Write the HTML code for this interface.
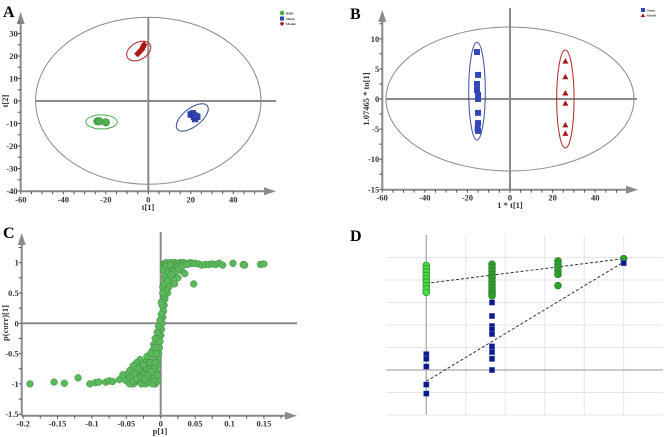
<!DOCTYPE html>
<html><head><meta charset="utf-8"><style>
html,body{margin:0;padding:0;background:#fff}
svg{display:block}
text{font-family:"Liberation Serif",serif;font-weight:bold;fill:#333}
.tk{font-size:8.5px}
.pl{font-size:16px;fill:#000}
</style></head><body>
<svg id="fig" width="666" height="437" viewBox="0 0 666 437" xmlns="http://www.w3.org/2000/svg"></svg>
<script>
// ---------- DATA ----------
const aBhdX=[-24,-23,-20];
const aBhdY=[-9,-9,-9.5];
const aShamX=[20,21,21.5,22,23,22];
const aShamY=[-6,-5.5,-7,-8,-7,-6.5];
const aModelX=[-5,-4.5,-4,-3.5,-3,-2.5,-2];
const aModelY=[21,21.5,22,22.5,23,24,25];
const aXTicks=[-60,-40,-20,0,20,40];
const aYTicks=[30,20,10,0,-10,-20,-30,-40];

const bShamX=[-15.5,-15,-15.5,-15.5,-15,-15,-15,-15,-15.2,-15];
const bShamY=[7.8,4,2.5,1.5,0.7,0,-2.3,-4,-5,-5.3];
const bModelX=[26,26,26,26,26,26];
const bModelY=[6.3,3.7,1,-0.7,-4.3,-5.7];
const bXTicks=[-60,-40,-20,0,20,40];
const bYTicks=[10,5,0,-5,-10,-15];

const cX=[0.004,0.006,0.008,0.01,0.012,0.015,0.018,0.02,0.022,0.025,0.028,0.03,0.033,0.036,0.04,0.043,0.046,0.05,0.055,0.007,0.01,0.013,0.016,0.02,0.024,0.03,0.035,0.02,0.025,0.015,0.012,0.02,0.01,0.006,0.008,0.005,0.004,0.003,0.002,0.001,0.0,0.004,0.006,0.008,0.004,0.003,0.002,0.001,
0.06,0.065,0.07,0.075,0.08,0.085,0.09,0.105,0.12,0.122,0.145,0.15,0.048,
-0.001,-0.002,-0.003,-0.004,-0.005,-0.006,-0.007,-0.008,-0.004,-0.002,-0.005,-0.008,-0.01,-0.012,-0.015,-0.02,-0.018,-0.01,-0.012,-0.015,-0.02,-0.025,-0.03,-0.035,-0.04,-0.045,-0.05,-0.048,-0.042,-0.038,-0.035,-0.03,-0.028,-0.025,-0.022,-0.018,-0.012,-0.01,-0.04,-0.045,-0.032,-0.027,-0.02,-0.015,-0.006,-0.008,
-0.19,-0.155,-0.14,-0.12,-0.103,-0.095,-0.09,-0.08,-0.075,-0.07,-0.06,-0.055,-0.05,
-0.045,-0.04,-0.035,-0.03,-0.025,-0.02,-0.015,-0.01,-0.005,-0.045,-0.04,-0.035,-0.03,-0.025,-0.02,-0.015,-0.01,-0.038,-0.033,-0.028,-0.023,-0.018,-0.013,-0.008,-0.003,-0.001,0.001,0.003,0.005,0.007,0.009,0.011,0.014,0.017,0.021,0.026,0.031,0.038,0.01,0.015];
const cY=[0.98,0.99,1,0.97,0.99,1,0.98,1,0.97,0.99,1,0.98,1,0.99,0.98,1,0.99,0.99,0.98,0.93,0.9,0.92,0.94,0.9,0.93,0.87,0.82,0.8,0.75,0.7,0.6,0.65,0.5,0.4,0.55,0.3,0.2,0.1,0.0,-0.1,-0.2,0.45,0.75,0.85,0.88,0.6,0.3,0.15,
0.96,0.97,0.97,0.98,0.97,0.99,0.96,0.99,0.97,0.96,0.97,0.98,0.65,
-0.3,-0.4,-0.5,-0.6,-0.7,-0.8,-0.9,-1,-0.95,-0.2,-0.15,-0.25,-0.35,-0.45,-0.5,-0.62,-0.7,-0.6,-0.8,-0.95,-0.85,-0.75,-0.6,-0.65,-0.7,-0.78,-0.85,-0.95,-0.9,-0.98,-0.85,-0.95,-1,-0.9,-1,-0.98,-1,-0.92,-1,-0.98,-0.78,-0.82,-0.75,-0.65,-0.5,-0.65,
-1,-0.97,-0.99,-0.9,-1,-0.98,-0.97,-0.97,-0.95,-0.96,-0.93,-0.85,-0.95,
-0.9,-0.88,-0.92,-0.88,-0.85,-0.9,-0.88,-0.85,-0.85,-1,-0.95,-0.92,-0.72,-0.68,-0.55,-0.75,-0.75,-0.82,-0.75,-0.9,-0.92,-0.85,-0.8,-0.4,-0.05,0.05,0.35,0.5,0.65,0.8,0.95,0.85,0.96,0.86,0.85,0.9,0.95,0.97,0.7,0.8];
const cXTicks=[-0.2,-0.15,-0.1,-0.05,0,0.05,0.1,0.15];
const cXLabels=["-0.2","-0.15","-0.1","-0.05","0","0.05","0.1","0.15"];
const cYTicks=[1,0.5,0,-0.5,-1,-1.5];

const dR2X=[0,0,0,0,0,0,0,0,0, 0.333,0.333,0.333,0.333,0.333,0.333,0.333,0.333,0.333,0.333,0.333, 0.667,0.667,0.667,0.667,0.667,0.667, 1];
const dR2Y=[0.93,0.90,0.87,0.84,0.81,0.78,0.75,0.72,0.69, 0.94,0.91,0.88,0.85,0.82,0.79,0.76,0.73,0.70,0.68,0.66, 0.97,0.94,0.91,0.88,0.85,0.75, 0.99];
const dQ2X=[0,0,0,0,0, 0.333,0.333,0.333,0.333,0.333,0.333,0.333,0.333,0.333, 1];
const dQ2Y=[0.14,0.10,0.03,-0.13,-0.21, 0.60,0.48,0.39,0.36,0.32,0.21,0.16,0.10,0.0, 0.95];
const dR2Line=[0.77,0.99];
const dQ2Line=[-0.10,0.96];
const dGridX=[0,0.2,0.4,0.6,0.8,1.0];
const dGridY=[1.0,0.8,0.6,0.4,0.2,0,-0.2,-0.4];

// ---------- SCALES ----------
const xA=v=>148.3+v*2.125, yA=v=>101-v*2.25;
const xB=v=>510+v*2.13, yB=v=>99-v*6.02;
const xC=v=>160.7+v*688, yC=v=>323.3-v*60.6;
const xD=v=>426.3+v*197.4, yD=v=>370-v*112.5;

const svg=document.getElementById('fig');
const NS='http://www.w3.org/2000/svg';
function mk(tag,attrs,parent){const e=document.createElementNS(NS,tag);for(const k in attrs)e.setAttribute(k,attrs[k]);(parent||svg).appendChild(e);return e;}
const AX='#8a8a8a';

function axes(x0,y0,x1,y1,pre){
  let e=mk('line',{x1:x0,y1:y0,x2:x1-6,y2:y0,stroke:AX,'stroke-width':2});
  
  
  e=mk('polygon',{points:`${x1},${y0} ${x1-12},${y0-4} ${x1-12},${y0+4}`,fill:AX});
  
  
  e=mk('line',{x1:x0,y1:y0,x2:x0,y2:y1+6,stroke:AX,'stroke-width':2});
  
  
  e=mk('polygon',{points:`${x0},${y1} ${x0-4},${y1+12} ${x0+4},${y1+12}`,fill:AX});
  
  
}
function xtick(x,y,label,pre){
  let e=mk('line',{x1:x,y1:y,x2:x,y2:y+3,stroke:'#555','stroke-width':1});
  
  
  if(label!==null){e=mk('text',{x:x,y:y+11,'text-anchor':'middle',class:'tk'});e.textContent=label;
  
  }
}
function ytick(x,y,label,pre){
  let e=mk('line',{x1:x-3,y1:y,x2:x,y2:y,stroke:'#555','stroke-width':1});
  
  
  if(label!==null){e=mk('text',{x:x-3,y:y+3,'text-anchor':'end',class:'tk'});e.textContent=label;
  
  }
}
function line(x1,y1,x2,y2,name,st,w,dash){
  const e=mk('line',{x1,y1,x2,y2,stroke:st,'stroke-width':w});
  if(dash)e.setAttribute('stroke-dasharray',dash);
  
  
  return e;
}
function txt(x,y,s,name,cls,extra){
  const e=mk('text',Object.assign({x,y,class:cls},extra||{}));e.textContent=s;
  
  
  return e;
}
function ell(cx,cy,rx,ry,rot,st,name){
  const e=mk('ellipse',{cx,cy,rx,ry,fill:'none',stroke:st,'stroke-width':1,transform:`rotate(${rot} ${cx} ${cy})`});
  
  
}

// ---------- PANEL A ----------
txt(3,17,'A','panel-a-label','pl');
ell(148.3,100.8,112.7,83.5,0,'#888','a-t2-hotelling-ellipse');
line(35,101,276,101,'a-horizontal-crosshair',AX,2);
line(148.3,17,148.3,191,'a-vertical-crosshair',AX,2);
axes(20.7,191.3,276,12,'a');
for(let v=-60;v<=50;v+=5){xtick(xA(v),191.3,aXTicks.includes(v)?String(v):null,'a');}
for(let v=-40;v<=35;v+=5){ytick(20.7,yA(v),aYTicks.includes(v)?String(v):null,'a');}
txt(148,210,'t[1]','a-x-axis-title','tk',{'text-anchor':'middle'});
txt(8,101,'t[2]','a-y-axis-title','tk',{'text-anchor':'middle',transform:'rotate(-90 8 101)'});
ell(xA(-22),yA(-9.3),15.7,7,0,'#4caf50','a-bhd-ellipse');
ell(xA(20.7),yA(-7.3),19,9,-38,'#3b4aa0','a-sham-ellipse');
ell(xA(-4.5),yA(22.2),13,8.5,-30,'#b22222','a-model-ellipse');
aBhdX.forEach((v,i)=>{const e=mk('circle',{cx:xA(v),cy:yA(aBhdY[i]),r:3.8,fill:'#4cae4c',stroke:'#2e7d32','stroke-width':0.5});
  
  });
aShamX.forEach((v,i)=>{const e=mk('rect',{x:xA(v)-3,y:yA(aShamY[i])-3,width:6,height:6,fill:'#3346b8',stroke:'#1a237e','stroke-width':0.4});
  
  });
aModelX.forEach((v,i)=>{const cx=xA(v),cy=yA(aModelY[i]);const e=mk('polygon',{points:`${cx},${cy-3.5} ${cx+3.5},${cy} ${cx},${cy+3.5} ${cx-3.5},${cy}`,fill:'#b01515'});
  
  });
// legend A
let lg=mk('circle',{cx:282,cy:13,r:2.3,fill:'#4cae4c'});


lg=mk('rect',{x:280,y:16.5,width:4,height:4,fill:'#3346b8'});


lg=mk('polygon',{points:'282,21.5 284.3,23.8 282,26 279.7,23.8',fill:'#b01515'});


txt(286,14.5,'BHD','a-legend-bhd','tk',{style:'font-size:3.5px'});
txt(286,20,'Sham','a-legend-sham','tk',{style:'font-size:3.5px'});
txt(286,25,'Model','a-legend-model','tk',{style:'font-size:3.5px'});

// ---------- PANEL B ----------
txt(350,19,'B','panel-b-label','pl');
ell(510,99,124,72,0,'#888','b-t2-hotelling-ellipse');
line(386,99,637,99,'b-horizontal-crosshair',AX,2);
line(510,8,510,189.7,'b-vertical-crosshair',AX,2);
axes(382.3,189.7,638,10,'b');
for(let v=-60;v<=50;v+=5){xtick(xB(v),189.7,bXTicks.includes(v)?String(v):null,'b');}
for(let v=-15;v<=12.5;v+=2.5){ytick(382.3,yB(v),bYTicks.includes(v)?String(v):null,'b');}
txt(510,208,'1 * t[1]','b-x-axis-title','tk',{'text-anchor':'middle'});
txt(369,99,'1.07465 * to[1]','b-y-axis-title','tk',{'text-anchor':'middle',transform:'rotate(-90 369 99)'});
ell(xB(-15.5),yB(1.3),8.3,48.8,0,'#3b4aa0','b-sham-ellipse');
ell(xB(26),yB(0),8.7,49,0,'#b22222','b-model-ellipse');
bShamX.forEach((v,i)=>{const e=mk('rect',{x:xB(v)-3,y:yB(bShamY[i])-3,width:6,height:6,fill:'#3346b8'});
  
  });
bModelX.forEach((v,i)=>{const cx=xB(v),cy=yB(bModelY[i]);const e=mk('polygon',{points:`${cx},${cy-3} ${cx+3},${cy+2.5} ${cx-3},${cy+2.5}`,fill:'#a01818'});
  
  });
lg=mk('rect',{x:641,y:8,width:4,height:4,fill:'#3346b8'});


lg=mk('polygon',{points:'643,13.5 645.3,17 640.7,17',fill:'#a01818'});


txt(646.5,11.5,'Sham','b-legend-sham','tk',{style:'font-size:3.5px'});
txt(646.5,16.5,'Model','b-legend-model','tk',{style:'font-size:3.5px'});

// ---------- PANEL C ----------
txt(3,238,'C','panel-c-label','pl');
line(21.7,323.3,297,323.3,'c-horizontal-crosshair',AX,2);
line(160.7,232,160.7,415,'c-vertical-crosshair',AX,2);
axes(21.7,415.7,297,233,'c');
for(let v=-0.2;v<=0.181;v+=0.025){const r=Math.round(v*1000)/1000;const idx=cXTicks.findIndex(t=>Math.abs(t-r)<1e-6);xtick(xC(r),415.7,idx>=0?cXLabels[idx]:null,'c');}
for(let v=-1.5;v<=1.26;v+=0.25){const r=Math.round(v*100)/100;ytick(21.7,yC(r),cYTicks.includes(r)?String(r):null,'c');}
txt(160,434,'p[1]','c-x-axis-title','tk',{'text-anchor':'middle'});
txt(8,323,'p(corr)[1]','c-y-axis-title','tk',{'text-anchor':'middle',transform:'rotate(-90 8 323)'});
cX.forEach((v,i)=>{const e=mk('circle',{cx:xC(v),cy:yC(cY[i]),r:3.4,fill:'#5cb85c',stroke:'#3d8b3d','stroke-width':0.5});
  
  });

// ---------- PANEL D ----------
txt(350,241,'D','panel-d-label','pl');
dGridX.forEach(v=>line(xD(v),235,xD(v),415,'d-grid-vertical','#e6e6e6',1));
dGridY.forEach(v=>line(386.3,yD(v),663,yD(v),'d-grid-horizontal','#e6e6e6',1));
line(426.3,235,426.3,415,'d-y-axis','#aaa',1.3);
line(386.3,370,663,370,'d-x-axis','#aaa',1.3);
line(xD(0),yD(dR2Line[0]),xD(1),yD(dR2Line[1]),'d-r2-regression-line','#333',1,'3,2');
line(xD(0),yD(dQ2Line[0]),xD(1),yD(dQ2Line[1]),'d-q2-regression-line','#333',1,'3,2');
dR2X.forEach((v,i)=>{const e=mk('circle',{cx:xD(v),cy:yD(dR2Y[i]),r:3.5,fill:v===0?'#44dd44':'#2e9e2e',stroke:'#2a7a2a','stroke-width':0.6});
  
  });
dQ2X.forEach((v,i)=>{const e=mk('rect',{x:xD(v)-2.8,y:yD(dQ2Y[i])-2.8,width:5.6,height:5.6,fill:'#0a1a8a',stroke:'#8899cc','stroke-width':0.4});
  
  });
</script>
</body></html>
